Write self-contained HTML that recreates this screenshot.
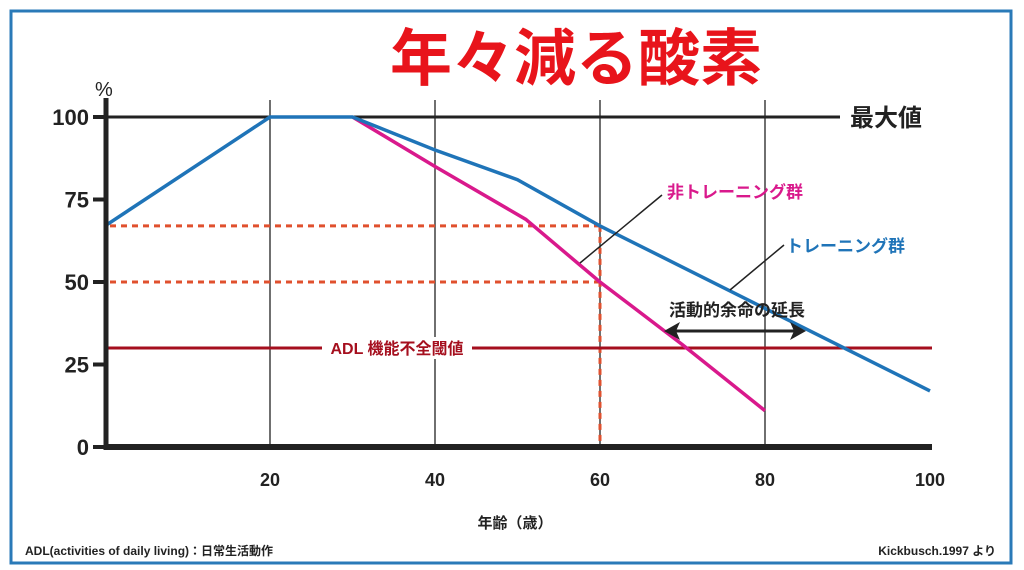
<!DOCTYPE html>
<html><head><meta charset="utf-8"><style>
body{margin:0;background:#fff;}
svg{display:block;font-family:"Liberation Sans","Noto Sans CJK JP",sans-serif;}
</style></head><body>
<svg width="1024" height="570" viewBox="0 0 1024 570">
<rect x="11" y="11" width="1000" height="552" fill="#fff" stroke="#2a7ab8" stroke-width="3"/>
<text x="576" y="80" text-anchor="middle" font-size="62" font-weight="bold" fill="#e8141b" font-family="'Noto Sans CJK JP',sans-serif">年々減る酸素</text>
<g id="plot"></g>
<text x="95" y="96" font-size="20" fill="#222">%</text>
<text x="515" y="528" text-anchor="middle" font-size="15" font-weight="bold" fill="#222">年齢（歳）</text>
<text x="25" y="555" font-size="12" font-weight="bold" fill="#222">ADL(activities of daily living)：日常生活動作</text>
<text x="996" y="555" text-anchor="end" font-size="12" font-weight="bold" fill="#222">Kickbusch.1997 より</text>
</svg>
<script>
const xTicks=[20,40,60,80,100];
const yTicks=[0,25,50,75,100];
const trainAge=[0,20,30,40,50,60,70,80,90,100];
const trainVal=[67,100,100,90,81,67,54.5,42,29.5,17];
const nonAge=[30,40,51,60,70,80];
const nonVal=[100,85,69,50,31,11];
const adlThreshold=30;
const refLevels=[67,50];
const refAge=60;
const X=v=>105+v*8.25, Y=v=>447-v*3.3;
const NS='http://www.w3.org/2000/svg';
const g=document.getElementById('plot');
function mk(t,a,txt){const e=document.createElementNS(NS,t);for(const k in a)e.setAttribute(k,a[k]);if(txt)e.textContent=txt;g.appendChild(e);return e;}
xTicks.forEach(t=>{
 if(t<100){
 const l=mk('line',{x1:X(t),x2:X(t),y1:100,y2:447,stroke:'#222','stroke-width':1.3});
 
 
 }
 const tx=mk('text',{x:X(t),y:486,'text-anchor':'middle','font-size':18,'font-weight':'bold',fill:'#222'},String(t));
 
 
});
yTicks.forEach(t=>{
 const l=mk('line',{x1:93,x2:106,y1:Y(t),y2:Y(t),stroke:'#222','stroke-width':4});
 
 
 const tx=mk('text',{x:89,y:Y(t)+8,'text-anchor':'end','font-size':22,'font-weight':'bold',fill:'#222'},String(t));
 
 
});
const mx=mk('line',{x1:106,x2:840,y1:Y(100),y2:Y(100),stroke:'#222','stroke-width':3});


const mxt=mk('text',{x:850,y:Y(100)+9,'font-size':24,'font-weight':'bold',fill:'#222'},'最大値');


refLevels.forEach(v=>{
 const l=mk('line',{x1:110,x2:X(refAge),y1:Y(v),y2:Y(v),stroke:'#e0502e','stroke-width':3,'stroke-dasharray':'6 5'});
 
 
});
const vd=mk('line',{x1:X(refAge),x2:X(refAge),y1:Y(refLevels[0]),y2:447,stroke:'#e0502e','stroke-width':3,'stroke-dasharray':'6 5'});


const adl=mk('line',{x1:106,x2:932,y1:Y(adlThreshold),y2:Y(adlThreshold),stroke:'#a50f1e','stroke-width':3});


const ab=mk('rect',{x:322,y:Y(adlThreshold)-11,width:150,height:22,fill:'#fff'});


const at=mk('text',{x:397,y:Y(adlThreshold)+6,'text-anchor':'middle','font-size':16,'font-weight':'bold',fill:'#a50f1e'},'ADL 機能不全閾値');


const p1=mk('polyline',{points:nonAge.map((a,i)=>X(a)+','+Y(nonVal[i])).join(' '),fill:'none',stroke:'#d9198c','stroke-width':3.5});


const p2=mk('polyline',{points:trainAge.map((a,i)=>X(a)+','+Y(trainVal[i])).join(' '),fill:'none',stroke:'#1f74b8','stroke-width':3.5});


const ax=mk('line',{x1:106,x2:106,y1:98,y2:450,stroke:'#222','stroke-width':5});


const bx=mk('line',{x1:104,x2:932,y1:447,y2:447,stroke:'#222','stroke-width':6});


const l1=mk('polyline',{points:'580,263 662,195',fill:'none',stroke:'#222','stroke-width':1.5});


const t1=mk('text',{x:667,y:198,'font-size':17,'font-weight':'bold',fill:'#d9198c'},'非トレーニング群');


const l2=mk('polyline',{points:'730,290 784,245',fill:'none',stroke:'#222','stroke-width':1.5});


const t2=mk('text',{x:786,y:252,'font-size':17,'font-weight':'bold',fill:'#1f74b8'},'トレーニング群');


const ar=mk('line',{x1:670,x2:800,y1:331,y2:331,stroke:'#222','stroke-width':3});


const h1=mk('polygon',{points:'664,331 680,322 676,331 680,340',fill:'#222'});


const h2=mk('polygon',{points:'806,331 790,322 794,331 790,340',fill:'#222'});


const t3=mk('text',{x:737,y:316,'text-anchor':'middle','font-size':17,'font-weight':'bold',fill:'#222'},'活動的余命の延長');


</script>
</body></html>
